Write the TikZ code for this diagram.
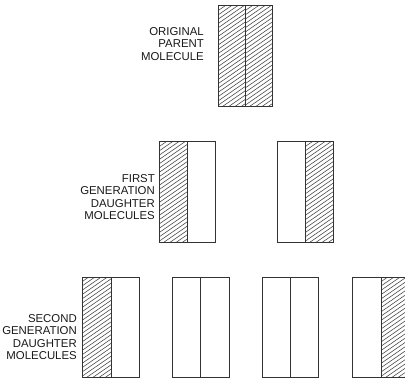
\documentclass[tikz,border=0pt]{standalone}
\usepackage{fontspec}
\setmainfont{Liberation Sans}
\usetikzlibrary{calc}
\tikzset{
  half/.style={draw=black!80, line width=0.8pt, rectangle, inner sep=0pt, minimum height=101pt},
  hatched/.style={path picture={
      \foreach \k in {-8,...,26}
        \draw[black!75, line width=0.55pt]
          ($(path picture bounding box.south west)+(-1pt,\k*4.3pt)$) -- ++(42pt,29pt);
  }},
  lbl/.style={align=right, anchor=east, inner sep=0pt, text=black!90,
    font=\fontsize{11.4}{12.6}\selectfont}
}
\begin{document}
\begin{tikzpicture}[x=1pt,y=-1pt]
\useasboundingbox (0,0) rectangle (405,380);
% original parent molecule
\node[half, hatched, minimum width=27pt] (p1) at (231.5,55.5) {};
\node[half, hatched, minimum width=27pt] (p2) at (258.5,55.5) {};
\node[lbl] (lp) at (204,44) {ORIGINAL\\PARENT\\MOLECULE};
% first generation
\node[half, hatched, minimum width=28pt] (f1a) at (173,191.5) {};
\node[half, minimum width=28pt] (f1b) at (201,191.5) {};
\node[half, minimum width=28pt] (f2a) at (291,191.5) {};
\node[half, hatched, minimum width=28pt] (f2b) at (319,191.5) {};
\node[lbl] (lf) at (155,197) {FIRST\\GENERATION\\DAUGHTER\\MOLECULES};
% second generation
\node[half, hatched, minimum width=29pt, minimum height=100pt] (s1a) at (96.5,327) {};
\node[half, minimum width=28pt, minimum height=100pt] (s1b) at (125,327) {};
\node[half, minimum width=28pt, minimum height=100pt] (s2a) at (186,327) {};
\node[half, minimum width=29pt, minimum height=100pt] (s2b) at (214.5,327) {};
\node[half, minimum width=28pt, minimum height=100pt] (s3a) at (276,327) {};
\node[half, minimum width=28pt, minimum height=100pt] (s3b) at (304,327) {};
\node[half, minimum width=29pt, minimum height=100pt] (s4a) at (366.5,327) {};
\node[half, hatched, minimum width=28pt, minimum height=100pt] (s4b) at (395,327) {};
\node[lbl] (ls) at (77,337) {SECOND\\GENERATION\\DAUGHTER\\MOLECULES};
\end{tikzpicture}
\end{document}
